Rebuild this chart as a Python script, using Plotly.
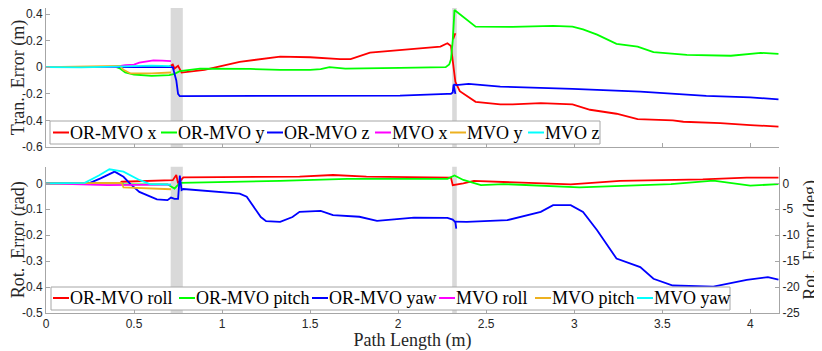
"""Translation / rotation error of OR-MVO and MVO along the path."""
import plotly.graph_objects as go

# ---- top panel: translation error (m) ----
or_x_x = [0, 0.2, 0.4, 0.45, 0.6, 0.7, 0.72, 0.73, 0.75, 0.77, 0.9, 1.1, 1.33, 1.5, 1.67, 1.73, 1.84,
          2.01, 2.15, 2.24, 2.28, 2.30, 2.31, 2.32, 2.325, 2.35, 2.44, 2.58, 2.65, 2.81, 2.99, 3.09,
          3.24, 3.36, 3.56, 3.62, 3.83, 4.0, 4.16, None, 2.312, 2.325]
or_x_y = [0, 0, 0, 0.005, 0.005, 0.005, 0.02, -0.01, 0.01, -0.04, -0.02, 0.04, 0.08, 0.075, 0.06, 0.06, 0.11,
          0.13, 0.145, 0.155, 0.18, 0.16, 0.05, -0.08, -0.11, -0.18, -0.26, -0.28, -0.28, -0.27, -0.28, -0.32,
          -0.35, -0.39, -0.40, -0.41, -0.42, -0.435, -0.447, None, 0.21, 0.255]

or_y_x = [0, 0.4, 0.42, 0.45, 0.5, 0.6, 0.7, 0.73, 0.76, 0.875, 1.16, 1.33, 1.5, 1.56, 1.61, 1.70, 2.01,
          2.27, 2.29, 2.30, 2.31, 2.32, 2.44, 2.58, 2.65, 2.88, 2.99, 3.05, 3.13, 3.24, 3.36, 3.45, 3.64,
          3.89, 4.06, 4.16]
or_y_y = [0, 0, -0.01, -0.04, -0.055, -0.065, -0.06, -0.05, -0.03, -0.01, -0.013, -0.02, -0.02, -0.015, 0.0,
          -0.01, -0.005, 0.0, 0.02, 0.06, 0.2, 0.43, 0.305, 0.30, 0.303, 0.31, 0.305, 0.285, 0.245, 0.175,
          0.155, 0.113, 0.093, 0.086, 0.108, 0.10]

or_z_x = [0, 0.4, 0.5, 0.7, 0.72, 0.74, 0.75, 0.76, 1.0, 1.44, 2.01, 2.28, 2.30, 2.31, 2.315, 2.325, None,
          2.315, 2.33, 2.40, 2.58, 2.99, 3.375, 3.75, 4.0, 4.16]
or_z_y = [0, 0, 0.005, 0.003, 0.0, -0.1, -0.2, -0.218, -0.218, -0.215, -0.213, -0.20, -0.20, -0.19, -0.13,
          -0.2, None, -0.13, -0.135, -0.126, -0.146, -0.163, -0.183, -0.215, -0.227, -0.242]

mvo_x_x = [0, 0.3, 0.4, 0.45, 0.5, 0.53, 0.61, 0.66, 0.69, 0.71]
mvo_x_y = [0, 0, 0.005, 0.015, 0.02, 0.035, 0.052, 0.05, 0.047, 0.045]
mvo_y_x = [0, 0.35, 0.42, 0.44, 0.48, 0.6, 0.66, 0.71]
mvo_y_y = [0, 0.005, 0.01, -0.02, -0.047, -0.047, -0.045, -0.04]
mvo_z_x = [0, 0.2, 0.4, 0.5, 0.6, 0.71]
mvo_z_y = [0, -0.002, 0.005, 0.01, 0.012, 0.008]

# ---- bottom panel: rotation error (rad) ----
or_roll_x = [0, 0.42, 0.43, 0.69, 0.72, 0.74, 0.75, 0.78, 1.44, 1.63, 1.82, 2.30, 2.31, 2.37, 2.43, 2.98,
             3.26, 3.73, 3.98, 4.16]
or_roll_y = [0, 0, 0.006, 0.01, 0.012, 0.032, 0.0, 0.023, 0.026, 0.032, 0.026, 0.022, -0.007, 0.0, 0.009,
             -0.004, 0.009, 0.015, 0.022, 0.022]
or_pitch_x = [0, 0.43, 0.44, 0.69, 0.73, 0.76, 1.33, 1.71, 2.28, 2.32, 2.37, 2.47, 2.60, 3.03, 3.55, 3.79,
              4.0, 4.16]
or_pitch_y = [0, 0, -0.004, -0.004, -0.02, 0.002, 0.009, 0.017, 0.017, 0.03, 0.013, -0.007, -0.003, -0.016,
              -0.003, 0.01, -0.009, -0.003]
or_yaw_x = [0, 0.25, 0.31, 0.39, 0.44, 0.48, 0.53, 0.63, 0.69, 0.71, 0.73, 0.75, 0.76, 0.77, 0.78, 1.06,
            1.10, 1.14, 1.22, 1.25, 1.33, 1.40, 1.44, 1.56, 1.63, 1.78, 1.88, 2.09, 2.28, 2.31, 2.325, 2.33,
            None, 2.32, 2.39, 2.62, 2.81, 2.88, 2.98, 3.05, 3.13, 3.24, 3.32, 3.375, 3.45, 3.56, 3.79, 3.98,
            4.10, 4.16]
or_yaw_y = [0, 0.002, 0.019, 0.045, 0.025, -0.003, -0.033, -0.062, -0.065, -0.055, -0.06, -0.06, 0.03,
            -0.026, -0.022, -0.039, -0.04, -0.052, -0.13, -0.146, -0.149, -0.13, -0.11, -0.106, -0.123,
            -0.129, -0.145, -0.132, -0.133, -0.14, -0.15, -0.175, None, -0.148, -0.149, -0.142, -0.11,
            -0.084, -0.084, -0.11, -0.181, -0.29, -0.308, -0.323, -0.368, -0.394, -0.398, -0.372, -0.362,
            -0.371]
mvo_roll_x = [0, 0.2, 0.35, 0.5, 0.69, 0.71]
mvo_roll_y = [0, -0.005, -0.007, -0.006, -0.007, -0.005]
mvo_pitch_x = [0, 0.3, 0.43, 0.44, 0.6, 0.71]
mvo_pitch_y = [0, 0.0, 0.002, -0.016, -0.02, -0.023]
mvo_yaw_x = [0, 0.22, 0.3, 0.36, 0.44, 0.5, 0.53, 0.59, 0.71]
mvo_yaw_y = [0, 0.002, 0.03, 0.054, 0.045, 0.025, 0.013, -0.003, -0.005]

# shaded windows along the path
bands = [(0.708, 0.777), (2.307, 2.333)]

RED, GREEN, BLUE = "#ff0000", "#00ff00", "#0000ff"
MAGENTA, ORANGE, CYAN = "#ff00ff", "#edb120", "#00ffff"
SERIF = "Liberation Serif"
SANS = "Liberation Sans"
AX = "#a6a6a6"
TXT = "#262626"

# the page body keeps its default 8px margin, so the figure is sized to fit inside it
OFF = 8
W, H = 822 - OFF, 351 - OFF
ML, MR, MT, MB = 46 - OFF, 43, 0, 38


def px(x):
    """page pixel column -> paper x"""
    return (x - OFF - ML) / (W - ML - MR)


def py(y):
    """page pixel row (from top) -> paper y"""
    return (H - MB - (y - OFF)) / (H - MT - MB)


fig = go.Figure()

top = [(or_x_x, or_x_y, "OR-MVO x", RED), (or_y_x, or_y_y, "OR-MVO y", GREEN),
       (or_z_x, or_z_y, "OR-MVO z", BLUE), (mvo_x_x, mvo_x_y, "MVO x", MAGENTA),
       (mvo_y_x, mvo_y_y, "MVO y", ORANGE), (mvo_z_x, mvo_z_y, "MVO z", CYAN)]
for x, y, name, c in top:
    fig.add_trace(go.Scatter(x=x, y=y, name=name, mode="lines", line=dict(color=c, width=1.8),
                             xaxis="x", yaxis="y", showlegend=False))

bottom = [(or_roll_x, or_roll_y, "OR-MVO roll", RED), (or_pitch_x, or_pitch_y, "OR-MVO pitch", GREEN),
          (or_yaw_x, or_yaw_y, "OR-MVO yaw", BLUE), (mvo_roll_x, mvo_roll_y, "MVO roll", MAGENTA),
          (mvo_pitch_x, mvo_pitch_y, "MVO pitch", ORANGE), (mvo_yaw_x, mvo_yaw_y, "MVO yaw", CYAN)]
for x, y, name, c in bottom:
    fig.add_trace(go.Scatter(x=x, y=y, name=name, mode="lines", line=dict(color=c, width=1.8),
                             xaxis="x2", yaxis="y2", showlegend=False))

# dummy trace so the right-hand degree axis is drawn
fig.add_trace(go.Scatter(x=[None], y=[None], xaxis="x2", yaxis="y3", showlegend=False,
                         hoverinfo="skip"))

for x0, x1 in bands:
    for xr, yr in (("x", "y domain"), ("x2", "y2 domain")):
        fig.add_shape(type="rect", xref=xr, yref=yr, x0=x0, x1=x1, y0=0, y1=1,
                      fillcolor="#d9d9d9", line_width=0, layer="below")


# MATLAB-style compact legends (short line swatch right before the label)
def legend_box(entries, starts, box, yc):
    left, right, top_, bot = box
    fig.add_shape(type="rect", xref="paper", yref="paper", x0=px(left), x1=px(right),
                  y0=py(bot), y1=py(top_), fillcolor="white", line=dict(color=AX, width=1))
    for (_, _, name, c), s in zip(entries, starts):
        fig.add_shape(type="line", xref="paper", yref="paper", x0=px(s), x1=px(s + 16),
                      y0=py(yc), y1=py(yc), line=dict(color=c, width=2))
        fig.add_annotation(text=name, xref="paper", yref="paper", x=px(s + 16), y=py(yc),
                           xanchor="left", yanchor="middle", showarrow=False, borderpad=0,
                           font=dict(family=SERIF, size=18, color="black"))


legend_box(top, [53, 161, 267, 375, 450, 528], (50, 600, 121, 144), 132.5)
legend_box(bottom, [53, 179, 312, 439, 535, 637], (51, 730, 287, 310), 298)

axis_common = dict(showline=True, linecolor=AX, linewidth=1, ticks="inside", ticklen=4, tickcolor=AX,
                   showgrid=False, zeroline=False, automargin=False, ticklabeloverflow="allow",
                   tickfont=dict(family=SANS, size=12, color=TXT))
title_font = dict(family=SERIF, size=18, color=TXT)

top_dom = [py(147), 1.0]
bot_dom = [0.0, py(166.7)]
# -0.6 sits on page row 147, 0.4 on row 14 (kept clear of the top edge)
top_max = 0.4 + (14 - OFF) * 1.0 / (147 - 14)

fig.update_layout(
    width=W, height=H,
    margin=dict(l=ML, r=MR, t=MT, b=MB, autoexpand=False),
    paper_bgcolor="white", plot_bgcolor="white",
    xaxis=dict(axis_common, domain=[0, 1], range=[0, 4.163], anchor="y",
               tickvals=[0, 0.5, 1, 1.5, 2, 2.5, 3, 3.5, 4], showticklabels=False),
    yaxis=dict(axis_common, domain=top_dom, range=[-0.6, top_max], anchor="x",
               tickvals=[-0.6, -0.4, -0.2, 0, 0.2, 0.4],
               ticktext=["-0.6", "-0.4", "-0.2", "0", "0.2", "0.4"],
               title=dict(text="Tran.  Error (m)", font=title_font, standoff=4)),
    xaxis2=dict(axis_common, domain=[0, 1], range=[0, 4.163], anchor="y2",
                tickvals=[0, 0.5, 1, 1.5, 2, 2.5, 3, 3.5, 4],
                ticktext=["0", "0.5", "1", "1.5", "2", "2.5", "3", "3.5", "4"],
                title=dict(text="Path Length (m)", font=title_font, standoff=2)),
    yaxis2=dict(axis_common, domain=bot_dom, range=[-0.5, 0.064], anchor="x2",
                tickvals=[-0.5, -0.4, -0.3, -0.2, -0.1, 0],
                ticktext=["-0.5", "-0.4", "-0.3", "-0.2", "-0.1", "0"],
                title=dict(text="Rot.  Error (rad)", font=title_font, standoff=4)),
    yaxis3=dict(axis_common, overlaying="y2", side="right", anchor="x2", range=[-25, 3.2],
                tickvals=[-25, -20, -15, -10, -5, 0],
                ticktext=["-25", "-20", "-15", "-10", "-5", "0"],
                title=dict(text="Rot.  Error (deg)", font=title_font, standoff=4)),
)

fig.write_html("out.html")
